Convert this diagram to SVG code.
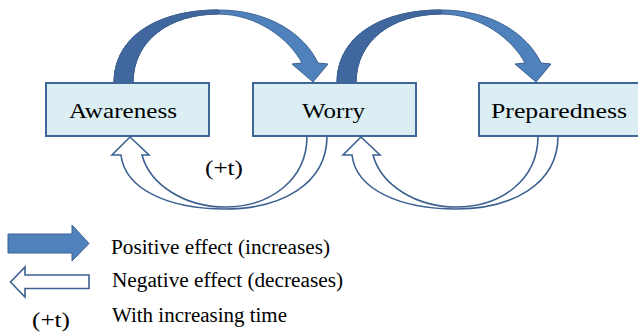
<svg xmlns="http://www.w3.org/2000/svg" width="638" height="336" viewBox="0 0 638 336">
<defs>
<style>
.box{fill:#dbeef4;stroke:#3e6697;stroke-width:2}
.lbl{font-family:"Liberation Serif","Times New Roman",serif;font-size:22px;fill:#000}
.leg{font-family:"Liberation Serif","Times New Roman",serif;font-size:20px;fill:#000}
.pos{fill:#4f81bd;stroke:#3c6191;stroke-width:1}
.back{fill:#41689e;stroke:#3c6191;stroke-width:1}
.neg{fill:#fff;stroke:#3c6191;stroke-width:1.6;stroke-linejoin:miter}
</style>
</defs>
<rect width="638" height="336" fill="#fff"/>
<g id="connectors">
  <g id="pos1">
    <path class="pos" d="M114,83 C114,35 160,10 218,10 C270,10 305,35 318,63 L328,64 L313,82 L292,64 L302,63 C290,40 258,14 218,14 C170,14 133,40 133,83 Z"/>
    <path class="back" d="M114,83 C114,35 160,10 218,10 L220,12 L218,14 C170,14 133,40 133,83 Z"/>
  </g>
  <g id="pos2" transform="translate(223,0)">
    <path class="pos" d="M114,83 C114,35 160,10 218,10 C270,10 305,35 318,63 L328,64 L313,82 L292,64 L302,63 C290,40 258,14 218,14 C170,14 133,40 133,83 Z"/>
    <path class="back" d="M114,83 C114,35 160,10 218,10 L220,12 L218,14 C170,14 133,40 133,83 Z"/>
  </g>
  <path id="neg1" class="neg" d="M327,136 C327,185 280,209 225,209 C170,209 125,190 121,155 L112,155 L130,137 L149,155 L142,155 C150,185 185,207 225,207 C270,207 307,180 307,136 Z"/>
  <path id="neg2" class="neg" transform="translate(231,0)" d="M327,136 C327,185 280,209 225,209 C170,209 125,190 121,155 L112,155 L130,137 L149,155 L142,155 C150,185 185,207 225,207 C270,207 307,180 307,136 Z"/>
</g>
<g id="awareness">
  <rect class="box" x="46" y="83" width="163" height="53"/>
  <text class="lbl" x="69" y="118" textLength="108" lengthAdjust="spacingAndGlyphs">Awareness</text>
</g>
<g id="worry">
  <rect class="box" x="253" y="83" width="163" height="53"/>
  <text class="lbl" x="302" y="118" textLength="63" lengthAdjust="spacingAndGlyphs">Worry</text>
</g>
<g id="preparedness">
  <rect class="box" x="479" y="83" width="165" height="53"/>
  <text class="lbl" x="491" y="118" textLength="136" lengthAdjust="spacingAndGlyphs">Preparedness</text>
</g>
<text class="leg" x="205" y="175" font-size="21" textLength="38" lengthAdjust="spacingAndGlyphs">(+t)</text>
<g id="legend">
  <path class="pos" d="M8,234 L72,234 L72,225 L89,243.5 L72,261 L72,253 L8,253 Z"/>
  <path class="neg" d="M89,275 L25,275 L25,267 L10.5,282 L25,297 L25,288.5 L89,288.5 Z"/>
  <text class="leg" x="111" y="254" textLength="219" lengthAdjust="spacingAndGlyphs">Positive effect (increases)</text>
  <text class="leg" x="112" y="287" textLength="231" lengthAdjust="spacingAndGlyphs">Negative effect (decreases)</text>
  <text class="leg" x="32" y="327" font-size="21" textLength="38" lengthAdjust="spacingAndGlyphs">(+t)</text>
  <text class="leg" x="112" y="322" textLength="175" lengthAdjust="spacingAndGlyphs">With increasing time</text>
</g>
</svg>
